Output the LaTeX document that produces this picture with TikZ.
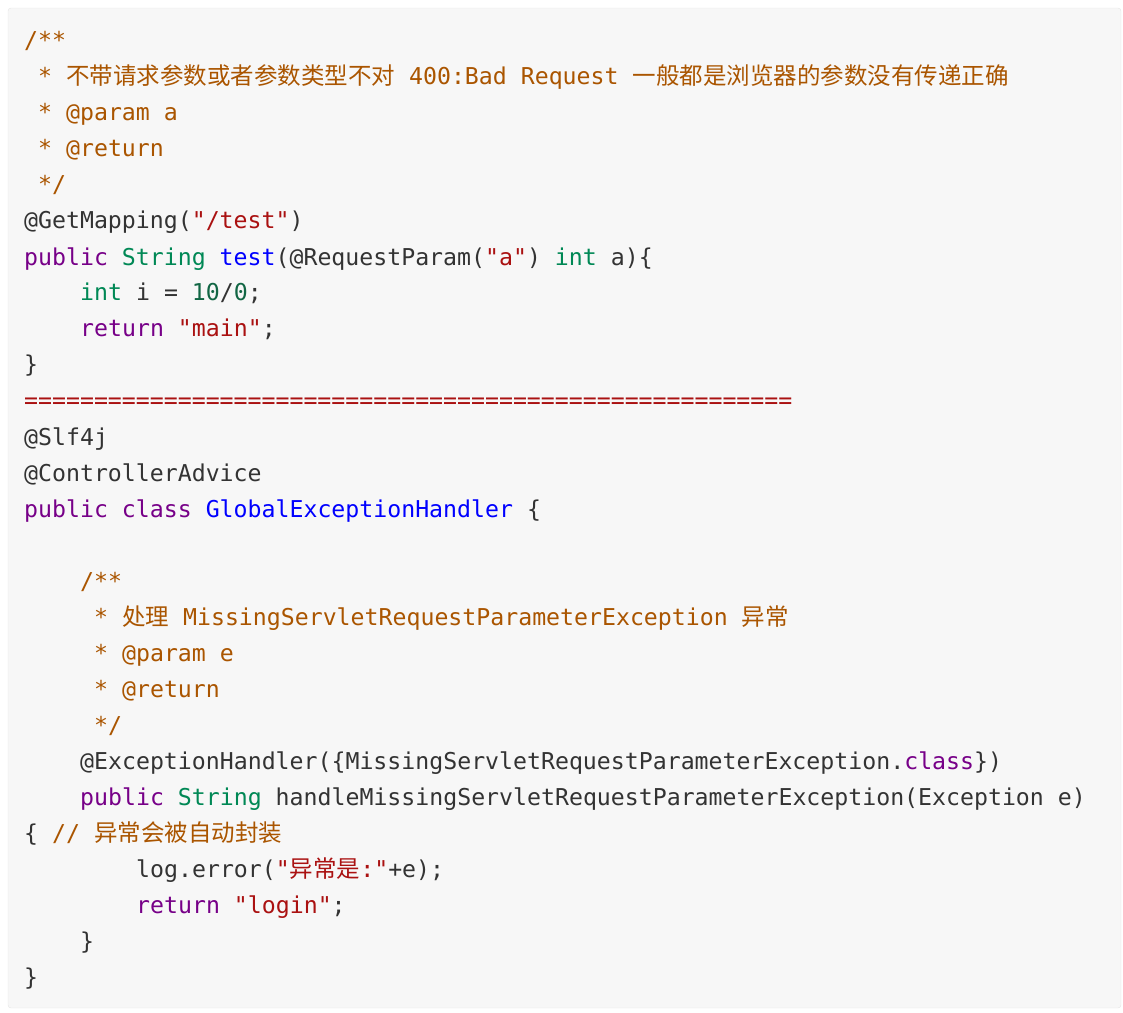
\documentclass[tikz,border=0pt]{standalone}
\usepackage{fontspec}
\setmonofont{DejaVu Sans Mono}
\newfontfamily\cj{Noto Sans CJK SC}
\definecolor{cmc}{HTML}{AA5500}
\definecolor{kwc}{HTML}{770088}
\definecolor{tyc}{HTML}{008855}
\definecolor{fnc}{HTML}{0000FF}
\definecolor{stc}{HTML}{AA1111}
\definecolor{nmc}{HTML}{116644}
\definecolor{txc}{HTML}{333333}
\newcommand\Kw[1]{{\color{kwc}#1}}
\newcommand\Ty[1]{{\color{tyc}#1}}
\newcommand\Fn[1]{{\color{fnc}#1}}
\newcommand\St[1]{{\color{stc}#1}}
\newcommand\Nm[1]{{\color{nmc}#1}}
\newcommand\Cm[1]{{\color{cmc}#1}}
\newcommand\Zh[1]{{\cj\fontsize{23.5}{23.5}\selectfont #1}}
\begin{document}
\begin{tikzpicture}[x=1pt,y=-1pt,
  code/.style={anchor=base west,inner sep=0pt,font=\ttfamily\fontsize{23.2}{23.2}\selectfont,text=txc}]
\useasboundingbox (0,0) rectangle (1123,1012);
\draw[fill=black!3,draw=black!10,rounded corners=3pt] (8,8) rectangle (1121,1008);
\def\L#1#2#3{\node[code] (l#1) at ({24+14*#2},{#1+8}) {#3};}
\L{40}{0}{\Cm{/**}}
\L{76}{1}{\Cm{* \Zh{不带请求参数或者参数类型不对} 400:Bad Request \Zh{一般都是浏览器的参数没有传递正确}}}
\L{112}{1}{\Cm{* @param a}}
\L{148}{1}{\Cm{* @return}}
\L{184}{1}{\Cm{*/}}
\L{220}{0}{@GetMapping(\St{"/test"})}
\L{257}{0}{\Kw{public} \Ty{String} \Fn{test}(@RequestParam(\St{"a"}) \Ty{int} a)\{}
\L{292}{4}{\Ty{int} i = \Nm{10}/\Nm{0};}
\L{328}{4}{\Kw{return} \St{"main"};}
\L{364}{0}{\}}
\L{400}{0}{\St{=======================================================}}
\L{437}{0}{@Slf4j}
\L{473}{0}{@ControllerAdvice}
\L{509}{0}{\Kw{public} \Kw{class} \Fn{GlobalExceptionHandler} \{}
\L{581}{4}{\Cm{/**}}
\L{617}{5}{\Cm{* \Zh{处理} MissingServletRequestParameterException \Zh{异常}}}
\L{653}{5}{\Cm{* @param e}}
\L{689}{5}{\Cm{* @return}}
\L{725}{5}{\Cm{*/}}
\L{761}{4}{@ExceptionHandler(\{MissingServletRequestParameterException.\Kw{class}\})}
\L{797}{4}{\Kw{public} \Ty{String} handleMissingServletRequestParameterException(Exception e)}
\L{833}{0}{\{ \Cm{// \Zh{异常会被自动封装}}}
\L{869}{8}{log.error(\St{"\Zh{异常是}:"}+e);}
\L{905}{8}{\Kw{return} \St{"login"};}
\L{941}{4}{\}}
\L{977}{0}{\}}
\end{tikzpicture}
\end{document}
